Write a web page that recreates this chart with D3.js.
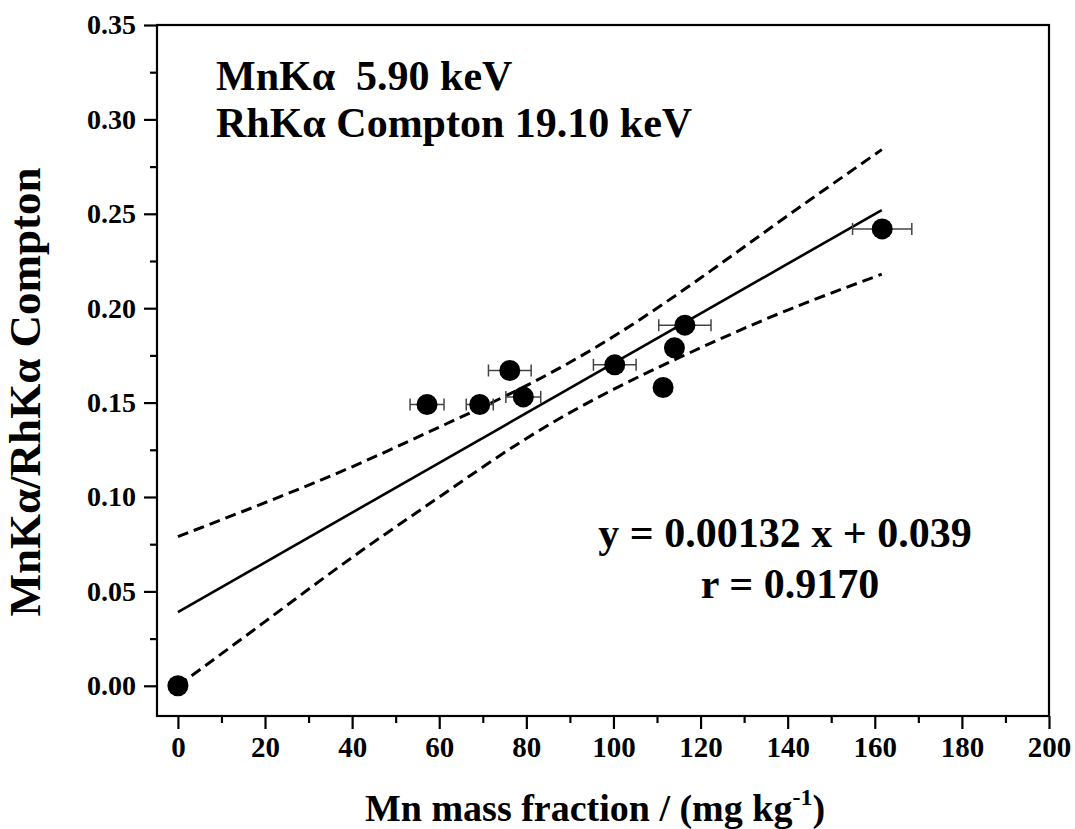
<!DOCTYPE html>
<html>
<head>
	<title>Mn calibration</title>
<script src="https://d3js.org/d3.v7.min.js"></script>
<style>
body { margin: 0; background: #fff; }
svg text { font-family: "Liberation Serif", "DejaVu Serif", serif !important; font-weight: bold; fill: #000; }
</style>
</head>
<body>
<script type="text/javascript">

	// measured points
	var massFraction = [0, 57.2, 69.3, 76.2, 79.3, 100.3, 111.4, 114.0, 116.4, 161.7];
	var ratio        = [0.000, 0.149, 0.149, 0.167, 0.153, 0.170, 0.158, 0.179, 0.191, 0.242];
	var xError       = [0, 3.9, 3.1, 4.9, 4.0, 4.9, 0, 0, 6.0, 6.8];

	// fit line and confidence band
	var fitX   = [0, 161.6];
	var fitY   = [0.039, 0.252];
	var bandX  = [0, 20, 40, 60, 80, 100, 120, 140, 161.6];
	var bandUp = [0.079, 0.097, 0.116, 0.137, 0.159, 0.185, 0.216, 0.249, 0.284];
	var bandLo = [0.000, 0.034, 0.068, 0.100, 0.131, 0.157, 0.179, 0.199, 0.218];

	var xTicks = [0, 20, 40, 60, 80, 100, 120, 140, 160, 180, 200];
	var yTicks = [0.00, 0.05, 0.10, 0.15, 0.20, 0.25, 0.30, 0.35];

	var width = 1075, height = 829;
	var frame = {left: 157, right: 1049, top: 25, bottom: 716};

	var svg = d3.select("body").append("svg")
		.attr("width", width)
		.attr("height", height);

	var x = d3.scaleLinear().domain([-4.8, 200]).range([frame.left, frame.right]);
	var y = d3.scaleLinear().domain([-0.016, 0.35]).range([frame.bottom, frame.top]);

	// frame
	svg.append("rect")
		.attr("x", frame.left).attr("y", frame.top)
		.attr("width", frame.right - frame.left)
		.attr("height", frame.bottom - frame.top)
		.attr("fill", "none").attr("stroke", "#000").attr("stroke-width", 2.2);

	// axes
	var xMinor = d3.range(10, 200, 20);
	var yMinor = d3.range(0.025, 0.35, 0.05);

	var gx = svg.append("g").attr("transform", "translate(0," + frame.bottom + ")");
	gx.call(d3.axisBottom(x).tickValues(xMinor).tickSize(7).tickFormat(""));
	gx.append("g").call(d3.axisBottom(x).tickValues(xTicks).tickSize(13).tickPadding(7).tickFormat(d3.format("d")));
	gx.selectAll(".domain").remove();
	gx.selectAll("line").attr("stroke-width", 2.2);
	gx.selectAll("text").attr("font-size", 29);

	var gy = svg.append("g").attr("transform", "translate(" + frame.left + ",0)");
	gy.call(d3.axisLeft(y).tickValues(yMinor).tickSize(7).tickFormat(""));
	gy.append("g").call(d3.axisLeft(y).tickValues(yTicks).tickSize(13).tickPadding(8).tickFormat(d3.format(".2f")));
	gy.selectAll(".domain").remove();
	gy.selectAll("line").attr("stroke-width", 2.2);
	gy.selectAll("text").attr("font-size", 28);

	// fit + confidence band
	var line = d3.line().x(function(d){ return x(d[0]); }).y(function(d){ return y(d[1]); });
	var curve = d3.line().x(function(d){ return x(d[0]); }).y(function(d){ return y(d[1]); }).curve(d3.curveNatural);

	svg.append("path")
		.attr("d", line(d3.zip(fitX, fitY)))
		.attr("fill", "none").attr("stroke", "#000").attr("stroke-width", 2.6);

	[bandUp, bandLo].forEach(function(b){
		svg.append("path")
			.attr("d", curve(d3.zip(bandX, b)))
			.attr("fill", "none").attr("stroke", "#000")
			.attr("stroke-width", 3).attr("stroke-dasharray", "11,6");
	});

	// error bars
	var pts = d3.range(massFraction.length).map(function(i){
		return {x: massFraction[i], y: ratio[i], e: xError[i]};
	});
	var eb = svg.append("g").selectAll("g").data(pts.filter(function(d){ return d.e > 0; }))
		.enter().append("g").attr("stroke", "#444").attr("stroke-width", 1.5);
	eb.append("line")
		.attr("x1", function(d){ return x(d.x - d.e); }).attr("x2", function(d){ return x(d.x + d.e); })
		.attr("y1", function(d){ return y(d.y); }).attr("y2", function(d){ return y(d.y); });
	[-1, 1].forEach(function(s){
		eb.append("line")
			.attr("x1", function(d){ return x(d.x + s * d.e); }).attr("x2", function(d){ return x(d.x + s * d.e); })
			.attr("y1", function(d){ return y(d.y) - 6; }).attr("y2", function(d){ return y(d.y) + 6; });
	});

	svg.append("g").selectAll("circle").data(pts).enter()
		.append("circle")
		.attr("cx", function(d){ return x(d.x); })
		.attr("cy", function(d){ return y(d.y); })
		.attr("r", 10.5)
		.attr("fill", "#000");

	// annotations
	svg.append("text").attr("x", 216).attr("y", 90).attr("font-size", 42).attr("xml:space", "preserve").text("MnK\u03b1  5.90 keV");
	svg.append("text").attr("x", 216).attr("y", 137).attr("font-size", 42).text("RhK\u03b1 Compton 19.10 keV");
	svg.append("text").attr("x", 785).attr("y", 547).attr("font-size", 42).attr("text-anchor", "middle").text("y = 0.00132 x + 0.039");
	svg.append("text").attr("x", 790).attr("y", 598).attr("font-size", 42).attr("text-anchor", "middle").text("r = 0.9170");

	// axis titles
	var xt = svg.append("text").attr("x", 595).attr("y", 821).attr("font-size", 38).attr("text-anchor", "middle");
	xt.append("tspan").text("Mn mass fraction / (mg kg");
	xt.append("tspan").attr("font-size", 24).attr("dy", -16).text("-1");
	xt.append("tspan").attr("dy", 16).text(")");

	svg.append("text")
		.attr("transform", "translate(40,392) rotate(-90)")
		.attr("font-size", 45).attr("text-anchor", "middle")
		.text("MnK\u03b1/RhK\u03b1 Compton");

</script>
</body>
</html>
